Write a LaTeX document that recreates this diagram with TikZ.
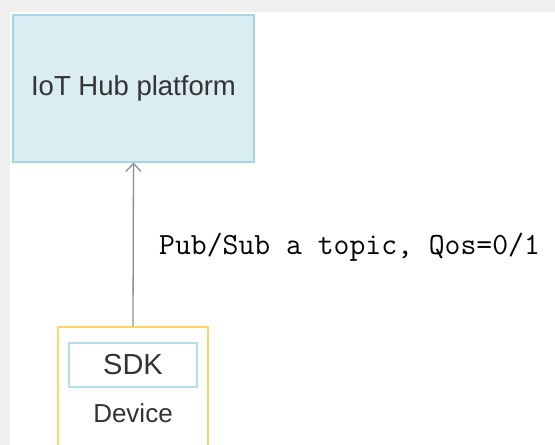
\documentclass[tikz,border=0pt]{standalone}
\usepackage{fontspec}
\setmainfont{Liberation Sans}
\usetikzlibrary{arrows.meta, positioning}
\definecolor{hubfill}{RGB}{218, 237, 242}
\definecolor{hubline}{RGB}{166, 214, 227}
\definecolor{sdkline}{RGB}{182, 221, 232}
\definecolor{devline}{RGB}{255, 214, 102}
\definecolor{linkgray}{RGB}{140, 140, 140}
\definecolor{textgray}{RGB}{51, 51, 51}

\begin{document}
\begin{tikzpicture}[x=1pt, y=-1pt,
        platform/.style={rectangle, draw=hubline, fill=hubfill, line width=2pt,
            minimum width=241pt, minimum height=147pt, text=textgray,
            font=\fontsize{27.5}{30}\selectfont},
        device/.style={rectangle, draw=devline, fill=white, line width=2pt,
            minimum width=150pt, minimum height=160pt},
        sdkbox/.style={rectangle, draw=sdkline, fill=white, line width=1.5pt,
            minimum width=128pt, minimum height=44pt, inner sep=0pt,
            text=textgray, font=\fontsize{29}{32}\selectfont},
        caption/.style={inner sep=0pt, text=textgray, font=\fontsize{26}{28}\selectfont},
        arrow/.style={-{Straight Barb[length=8pt, width=15pt]}, line width=1.3pt, color=linkgray}
        ]
        % page with a grey margin at the top and left
        \clip (0,0) rectangle (555,445);
        \fill[black!6] (0,0) rectangle (555,445);
        \fill[white] (10,12) rectangle (555,445);

        \node[platform] (hub) at (133.5,88) {IoT Hub platform};
        \node[device, anchor=north] (dev) at (133,326) {};
        \node[sdkbox] (sdk) at (133,365) {SDK};
        \node[caption, below=16pt of sdk] (devname) {Device};

        \draw[arrow] (dev.north) -- (hub.south);
        \node[anchor=base west, inner sep=0pt, font=\ttfamily\fontsize{30.8}{33}\selectfont]
            (topic) at (159,254) {Pub/Sub a topic, Qos=0/1};
    \end{tikzpicture}
\end{document}
